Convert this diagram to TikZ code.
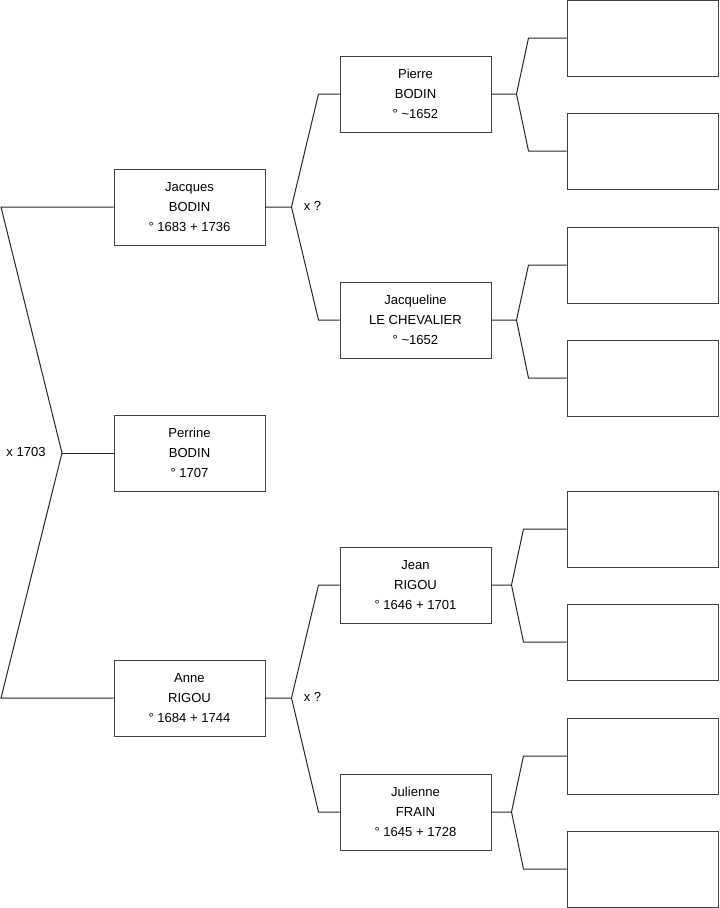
\documentclass[tikz,border=0pt]{standalone}
\usepackage{fontspec}
\setmainfont{Liberation Sans}
\usetikzlibrary{calc}

\begin{document}
\begin{tikzpicture}[
    x=0.75pt, y=-0.75pt,
    person/.style={draw=black!75, line width=0.75pt, minimum width=113.25pt,
                   minimum height=57pt, align=center, inner sep=0pt,
                   font=\fontsize{9.8}{15}\selectfont},
    blank/.style={person},
    link/.style={draw=black!85, line width=0.75pt},
    union/.style={font=\fontsize{9.8}{11}\selectfont}
  ]
    \useasboundingbox (0,0) rectangle (719,908);

    \node[person] (jacques)    at (189.5,207) {Jacques\\BODIN\\° 1683 + 1736};
    \node[person] (perrine)    at (189.5,453) {Perrine\\BODIN\\° 1707};
    \node[person] (anne)       at (189.5,698) {Anne\\RIGOU\\° 1684 + 1744};

    \node[person] (pierre)     at (415.5,94)  {Pierre\\BODIN\\° \textasciitilde1652};
    \node[person] (jacqueline) at (415.5,320) {Jacqueline\\LE CHEVALIER\\° \textasciitilde1652};
    \node[person] (jean)       at (415.5,585) {Jean\\RIGOU\\° 1646 + 1701};
    \node[person] (julienne)   at (415.5,812) {Julienne\\FRAIN\\° 1645 + 1728};

    \node[blank] (e1) at (642.5,38)  {};
    \node[blank] (e2) at (642.5,151) {};
    \node[blank] (e3) at (642.5,265) {};
    \node[blank] (e4) at (642.5,378) {};
    \node[blank] (e5) at (642.5,529) {};
    \node[blank] (e6) at (642.5,642) {};
    \node[blank] (e7) at (642.5,756) {};
    \node[blank] (e8) at (642.5,869) {};

    \coordinate (jtail) at (1,207);
    \coordinate (atail) at (1,698);
    \coordinate (fork0) at (62,453);
    \draw[link] (jacques.west) -- (jtail) -- (fork0) -- (atail) -- (anne.west);
    \draw[link] (fork0) -- (perrine.west);
    \node[union] (m0) at (26,452) {x 1703};

    \foreach \c/\f/\m in {jacques/pierre/jacqueline, anne/jean/julienne}{
      \draw[link] (\c.east) -- ++(26,0) coordinate (f\c)
                  -- ($(\f.west)+(-21,0)$) -- (\f.west);
      \draw[link] (f\c) -- ($(\m.west)+(-21,0)$) -- (\m.west);
      \node[union] at ($(f\c)+(21,-1)$) {x ?};
    }

    \foreach \p/\a/\b/\s/\t in {pierre/e1/e2/25/38, jacqueline/e3/e4/25/38,
                                jean/e5/e6/20/43, julienne/e7/e8/20/43}{
      \draw[link] (\p.east) -- ++(\s,0) coordinate (f\p)
                  -- ($(\a.west)+(-\t,0)$) -- (\a.west);
      \draw[link] (f\p) -- ($(\b.west)+(-\t,0)$) -- (\b.west);
    }
  \end{tikzpicture}
\end{document}
